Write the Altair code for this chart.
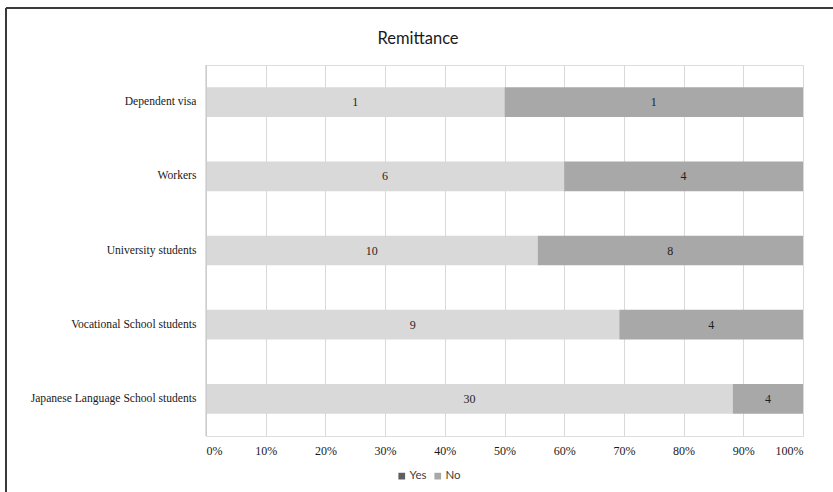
import altair as alt
import pandas as pd

categories = ["Dependent visa", "Workers", "University students",
              "Vocational School students", "Japanese Language School students"]
yes_values = [1, 6, 10, 9, 30]
no_values = [1, 4, 8, 4, 4]
series = ["Yes", "No"]
bar_colors = ["#d9d9d9", "#a8a8a8"]
legend_colors = ["#5f5f5f", "#a8a8a8"]
tick_values = [0, 0.1, 0.2, 0.3, 0.4, 0.5, 0.6, 0.7, 0.8, 0.9, 1.0]
title_text = "Remittance"

rows = []
for c, y, n in zip(categories, yes_values, no_values):
    rows.append({"category": c, "series": "Yes", "order": 0, "count": y})
    rows.append({"category": c, "series": "No", "order": 1, "count": n})
df = pd.DataFrame(rows)

W, H = 597, 371
PAD_L, PAD_T, PAD_R, PAD_B = 206, 65, 30, 56

base = alt.Chart(df).transform_stack(
    stack="count", as_=["x0", "x1"], groupby=["category"],
    sort=[alt.SortField("order")], offset="normalize"
).transform_calculate(mid="(datum.x0 + datum.x1) / 2")

y_enc = alt.Y("category:N", sort=categories, title=None,
              scale=alt.Scale(paddingInner=0.6, paddingOuter=0.3),
              axis=alt.Axis(labelFont="Liberation Serif", labelFontSize=11.6,
                            labelColor="#1a1a1a", ticks=False, domain=False,
                            labelPadding=10))

bars = base.mark_bar().encode(
    x=alt.X("x0:Q", title=None,
            scale=alt.Scale(domain=[0, 1], nice=False),
            axis=alt.Axis(format="%", values=tick_values, labelFont="Liberation Serif",
                          labelFontSize=12, labelColor="#1a1a1a", ticks=False,
                          domain=False, grid=True, gridColor="#d9d9d9",
                          labelPadding=9)),
    x2="x1:Q",
    y=y_enc,
    color=alt.Color("series:N", scale=alt.Scale(domain=series, range=bar_colors),
                    legend=None),
)

labels = base.mark_text(font="Liberation Serif", fontSize=12, color="#1f1f1f").encode(
    x="mid:Q",
    y=alt.Y("category:N", sort=categories),
    text="count:Q",
)

legend_layer = base.mark_square(opacity=0).encode(
    x="mid:Q",
    y=alt.Y("category:N", sort=categories),
    color=alt.Color("series:N", scale=alt.Scale(domain=series, range=legend_colors),
                    title=None,
                    legend=alt.Legend(orient="none", legendX=190, legendY=405,
                                      direction="horizontal", symbolType="square",
                                      symbolSize=45, symbolOpacity=1,
                                      labelFont="Lato", labelFontSize=11.5,
                                      labelColor="#404040", columnPadding=5,
                                      labelOffset=2, symbolStrokeWidth=0)),
)

zero_line = alt.Chart(alt.Data(values=[{"v": 0}])).mark_rule(color="#bfbfbf", strokeWidth=1).encode(
    x=alt.X("v:Q"), y=alt.value(0), y2=alt.value(H)
)

title_layer = alt.Chart(alt.Data(values=[{"t": title_text}])).mark_text(
    font="Lato", fontSize=16.5, color="#1a1a1a", baseline="middle", align="center"
).encode(text="t:N", x=alt.value(418 - PAD_L), y=alt.value(39 - PAD_T))

border = alt.Chart(alt.Data(values=[{}])).mark_rule(color="#3a3a3a", strokeWidth=2)
left_border = border.encode(x=alt.value(6 - PAD_L), y=alt.value(8 - PAD_T), y2=alt.value(500))
top_border = border.encode(y=alt.value(8 - PAD_T), x=alt.value(6 - PAD_L), x2=alt.value(900))

chart = alt.layer(bars, zero_line, labels, legend_layer, title_layer,
                  left_border, top_border).resolve_scale(
    color="independent"
).properties(
    width=W, height=H,
    autosize=alt.AutoSizeParams(type="none"),
    padding={"left": PAD_L, "top": PAD_T, "right": PAD_R, "bottom": PAD_B},
).configure_view(stroke=None).configure(background="white")

chart.save("out.html", embed_options={"renderer": "svg", "actions": False})
